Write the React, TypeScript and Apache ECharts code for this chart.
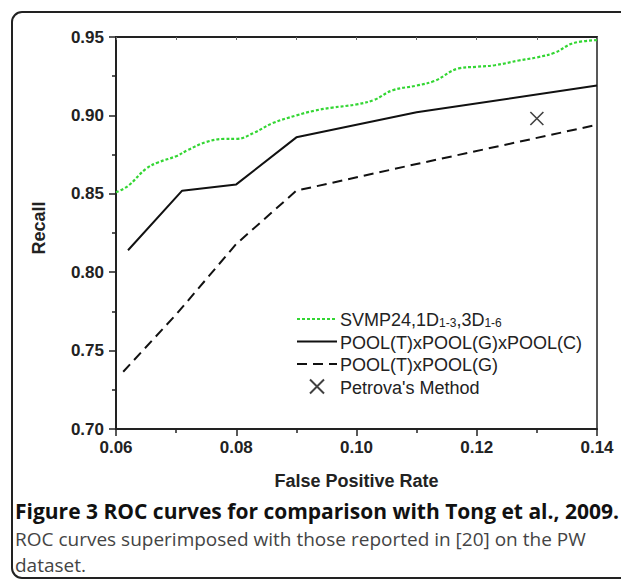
import React, { useEffect, useRef } from "react";
import * as echarts from "echarts";

const svmpX = [0.060, 0.062, 0.065, 0.067, 0.070, 0.072, 0.075, 0.078, 0.080, 0.083, 0.086, 0.090, 0.093, 0.096, 0.100, 0.103, 0.106, 0.110, 0.113, 0.117, 0.120, 0.123, 0.127, 0.130, 0.133, 0.136, 0.140];
const svmpY = [0.851, 0.855, 0.866, 0.870, 0.874, 0.878, 0.883, 0.885, 0.885, 0.889, 0.895, 0.900, 0.903, 0.905, 0.907, 0.910, 0.916, 0.919, 0.922, 0.930, 0.931, 0.932, 0.935, 0.937, 0.940, 0.946, 0.948];

const poolTGCX = [0.062, 0.071, 0.080, 0.090, 0.110, 0.140];
const poolTGCY = [0.814, 0.852, 0.856, 0.886, 0.902, 0.919];

const poolTGX = [0.0612, 0.070, 0.080, 0.090, 0.110, 0.140];
const poolTGY = [0.7365, 0.773, 0.818, 0.852, 0.869, 0.894];

const petrovaX = [0.130];
const petrovaY = [0.898];

const seriesNames = [
  "SVMP24,1D1-3,3D1-6",
  "POOL(T)xPOOL(G)xPOOL(C)",
  "POOL(T)xPOOL(G)",
  "Petrova's Method",
];

const xTicks = { min: 0.06, max: 0.14, interval: 0.02 };
const yTicks = { min: 0.7, max: 0.95, interval: 0.05 };

const captionBold = "Figure 3 ROC curves for comparison with Tong et al., 2009.";
const captionLine2 = "ROC curves superimposed with those reported in [20] on the PW";
const captionLine3 = "dataset.";

const zip = (xs: number[], ys: number[]) => xs.map((x, i) => [x, ys[i]]);

export default function App() {
  const ref = useRef<HTMLDivElement>(null);
  useEffect(() => {
    if (!ref.current) return;
    const chart = echarts.init(ref.current, null, { renderer: "svg" });
    const sans = "Liberation Sans, Arial, sans-serif";
    const axisFont = { fontFamily: sans, fontWeight: "bold" as const, fontSize: 17, color: "#222" };
    chart.setOption({
      animation: false,
      backgroundColor: "#fff",
      grid: { left: 116, right: 24, top: 37, bottom: 152, show: true, borderColor: "#222", borderWidth: 1.5, backgroundColor: "transparent" },
      xAxis: [
        {
          type: "value",
          min: xTicks.min,
          max: xTicks.max,
          interval: xTicks.interval,
          name: "False Positive Rate",
          nameLocation: "middle",
          nameGap: 43,
          nameTextStyle: { ...axisFont, fontSize: 18 },
          axisLine: { show: true, onZero: false, lineStyle: { color: "#222", width: 2 } },
          axisTick: { show: true, inside: false, length: 7, lineStyle: { color: "#222", width: 1.5 } },
          minorTick: { show: true, splitNumber: 2, length: 4, lineStyle: { color: "#222", width: 1.5 } },
          splitLine: { show: false },
          axisLabel: { ...axisFont, margin: 10, formatter: (v: number) => v.toFixed(2) },
        },
        {
          type: "value",
          position: "top",
          min: xTicks.min,
          max: xTicks.max,
          interval: xTicks.interval,
          axisLine: { show: true, lineStyle: { color: "#222", width: 2 } },
          axisTick: { show: true, inside: true, length: 3, lineStyle: { color: "#666", width: 1 } },
          minorTick: { show: true, splitNumber: 2, length: 3, lineStyle: { color: "#666", width: 1 } },
          axisLabel: { show: false },
          splitLine: { show: false },
        },
      ],
      yAxis: {
        type: "value",
        min: yTicks.min,
        max: yTicks.max,
        interval: yTicks.interval,
        name: "Recall",
        nameLocation: "middle",
        nameGap: 68,
        nameRotate: 90,
        nameTextStyle: { ...axisFont, fontSize: 18, padding: [0, 0, 0, 10] },
        axisLine: { show: true, onZero: false, lineStyle: { color: "#222", width: 2 } },
        axisTick: { show: true, inside: false, length: 7, lineStyle: { color: "#222", width: 1.5 } },
        minorTick: { show: true, splitNumber: 2, length: 4, lineStyle: { color: "#222", width: 1.5 } },
        splitLine: { show: false },
        axisLabel: { ...axisFont, margin: 12, formatter: (v: number) => v.toFixed(2) },
      },
      legend: {
        orient: "vertical",
        left: 291,
        top: 304,
        itemWidth: 40,
        itemHeight: 14,
        itemGap: 2.5,
        selectedMode: false,
        data: [
          { name: seriesNames[0], itemStyle: { opacity: 0 } },
          { name: seriesNames[1], itemStyle: { opacity: 0 } },
          { name: seriesNames[2], itemStyle: { opacity: 0 } },
          { name: seriesNames[3] },
        ],
        formatter: (name: string) =>
          name === seriesNames[0] ? "{a|SVMP24,1D}{s|1-3}{a|,3D}{s|1-6}" : "{a|" + name + "}",
        textStyle: {
          fontFamily: sans,
          fontSize: 18,
          color: "#222",
          lineHeight: 20,
          padding: [0, 0, 0, -2],
          rich: {
            a: { fontFamily: sans, fontSize: 18, color: "#222", lineHeight: 20, verticalAlign: "bottom" },
            s: { fontFamily: sans, fontSize: 12, color: "#222", lineHeight: 6, verticalAlign: "bottom" },
          },
        },
      },
      series: [
        {
          name: seriesNames[0],
          type: "line",
          data: zip(svmpX, svmpY),
          smooth: 0.4,
          symbol: "none",
          lineStyle: { color: "#33d633", width: 2.2, type: [3, 2] },
          itemStyle: { color: "#33d633" },
        },
        {
          name: seriesNames[1],
          type: "line",
          data: zip(poolTGCX, poolTGCY),
          symbol: "none",
          lineStyle: { color: "#111", width: 2 },
          itemStyle: { color: "#111" },
        },
        {
          name: seriesNames[2],
          type: "line",
          data: zip(poolTGX, poolTGY),
          symbol: "none",
          lineStyle: { color: "#111", width: 2, type: [10, 6] },
          itemStyle: { color: "#111" },
        },
        {
          name: seriesNames[3],
          type: "scatter",
          data: zip(petrovaX, petrovaY),
          symbol: "path://M0,0L10,10M10,0L0,10",
          symbolSize: 13,
          itemStyle: { color: "rgba(0,0,0,0)", borderColor: "#111", borderWidth: 1.6 },
        },
      ],
      graphic: [
        {
          type: "rect",
          shape: { x: 12, y: 12, width: 640, height: 566, r: 10 },
          style: { fill: "none", stroke: "#222", lineWidth: 2 },
          silent: true,
          z: -1,
        },
        {
          type: "text",
          x: 15,
          y: 511,
          style: { text: captionBold, font: "bold 21px 'Open Sans', sans-serif", fill: "#111", verticalAlign: "middle" },
        },
        {
          type: "text",
          x: 15,
          y: 539,
          style: { text: captionLine2, font: "19px 'Open Sans', sans-serif", fill: "#444", verticalAlign: "middle" },
        },
        {
          type: "text",
          x: 15,
          y: 565,
          style: { text: captionLine3, font: "19px 'Open Sans', sans-serif", fill: "#444", verticalAlign: "middle" },
        },
      ],
    });
    return () => chart.dispose();
  }, []);
  return <div ref={ref} style={{ position: "fixed", left: 0, top: 0, width: 621, height: 581 }} />;
}
